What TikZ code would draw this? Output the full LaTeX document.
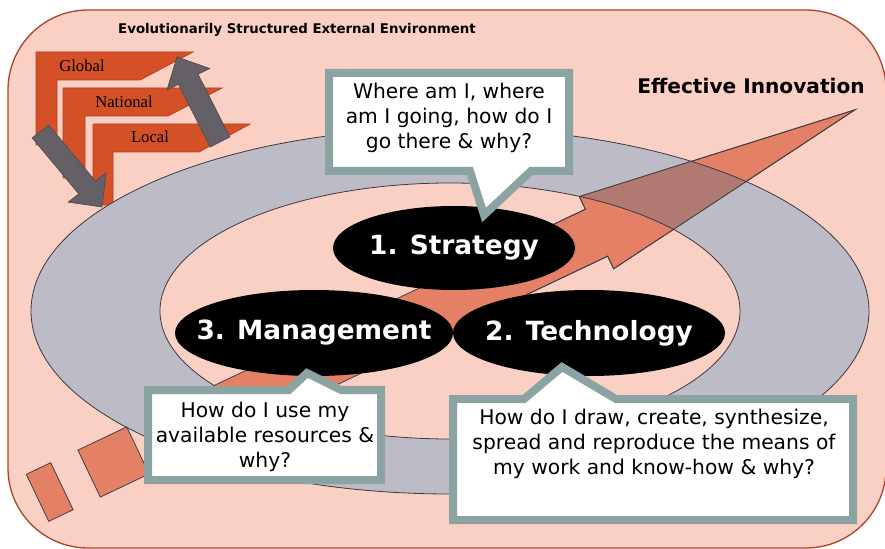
\documentclass[tikz,border=0pt]{standalone}
\usepackage{fontspec}
\setmainfont{DejaVu Sans}
\newfontfamily\lblserif{Liberation Serif}
\usetikzlibrary{shapes.geometric}
\definecolor{bgpink}{HTML}{FBD0C4}
\definecolor{bgline}{HTML}{A9472C}
\definecolor{ringgray}{HTML}{BDBBC6}
\definecolor{ringline}{HTML}{3A3A40}
\definecolor{salmon}{HTML}{E48066}
\definecolor{mauve}{HTML}{B07A72}
\definecolor{levelorange}{HTML}{D45026}
\definecolor{levelline}{HTML}{B5401C}
\definecolor{darkarrow}{HTML}{655F66}
\definecolor{callgray}{HTML}{8CA3A3}
\begin{document}
\begin{tikzpicture}[x=0.75pt,y=-0.75pt,line join=miter,
  blackell/.style={ellipse,fill=black,inner sep=0pt,outer sep=0pt},
  elltext/.style={text=white,inner sep=0pt,font=\fontsize{19.8}{24}\selectfont\bfseries},
  calloutbox/.style={draw=callgray,fill=white,line width=6pt},
  calltext/.style={align=center,inner sep=0pt,font=\fontsize{15.2}{19}\selectfont},
  levelshape/.style={fill=levelorange,draw=levelline,line width=0.6pt},
  levellabel/.style={inner sep=0pt,font=\lblserif\fontsize{12.5}{15}\selectfont},
  grayarrow/.style={fill=darkarrow,draw=black!70,line width=0.5pt},
  ringfill/.style={fill=ringgray},
  ringedge/.style={draw=ringline,line width=0.6pt},
  bigarrow/.style={fill=salmon,draw=black!75,line width=0.6pt},
  tailpiece/.style={fill=salmon,draw=black!75,line width=0.6pt}]
\useasboundingbox (0,0) rectangle (885,549);
\fill[white] (0,0) rectangle (885,549);
% background environment
\draw[fill=bgpink,draw=bgline,line width=1pt,rounded corners=60pt] (8,10) rectangle (886,548);
\node[inner sep=0pt,font=\fontsize{10}{12}\selectfont\bfseries] (title) at (297,30) {Evolutionarily Structured External Environment};
\node[inner sep=0pt,font=\fontsize{15.1}{18}\selectfont\bfseries] (effinn) at (751,86) {Effective Innovation};
% level shapes
\path[levelshape] (36,52) -- (193,52) -- (140,80) -- (57,80) -- (57,145) -- (36,145) -- cycle;
\path[levelshape] (63,88) -- (222,88) -- (168,116) -- (85,116) -- (85,178) -- (63,178) -- cycle;
\path[levelshape] (93,124) -- (250,124) -- (199,152) -- (113,152) -- (113,205) -- (93,205) -- cycle;
\node[levellabel] (global) at (82,66) {Global};
\node[levellabel] (national) at (124,102) {National};
\node[levellabel] (local) at (150,137) {Local};
% gray cycle arrows
\path[grayarrow] (48.8,125.1) -- (95.4,181.1) -- (106.1,172.9) -- (102,207) -- (68.1,202.1) -- (78.8,193.9) -- (32.2,137.9) -- cycle;
\path[grayarrow] (229.8,137) -- (198.1,74.3) -- (209.7,68.5) -- (177,57) -- (166.9,90.1) -- (178.5,84.3) -- (210.2,147) -- cycle;
% ring
\path[ringfill] (450,311) ellipse [x radius=314.25pt, y radius=137.25pt];
\path[fill=bgpink] (450,311) ellipse [x radius=217.5pt, y radius=96pt];
% big arrow
\path[bigarrow] (163.85,409.4) -- (585.35,209.2) -- (579.34,196.6) -- (855,109.8) -- (613.66,268.8) -- (607.65,256.2) -- (186.15,456.4) -- cycle;
\begin{scope}
  \clip (163.85,409.4) -- (585.35,209.2) -- (579.34,196.6) -- (855,109.8) -- (613.66,268.8) -- (607.65,256.2) -- (186.15,456.4) -- cycle;
  \fill[ringgray,even odd rule] (450,311) ellipse [x radius=314.25pt, y radius=137.25pt] (450,311) ellipse [x radius=217.5pt, y radius=96pt];
  \clip (450,0) rectangle (885,549);
  \fill[mauve,even odd rule] (450,311) ellipse [x radius=314.25pt, y radius=137.25pt] (450,311) ellipse [x radius=217.5pt, y radius=96pt];
\end{scope}
\path[ringedge] (450,311) ellipse [x radius=314.25pt, y radius=137.25pt];
\path[ringedge] (450,311) ellipse [x radius=217.5pt, y radius=96pt];
\begin{scope}
  \clip (450,0) rectangle (885,549);
  \draw[black!75,line width=0.6pt] (163.85,409.4) -- (585.35,209.2) -- (579.34,196.6) -- (855,109.8) -- (613.66,268.8) -- (607.65,256.2) -- (186.15,456.4) -- cycle;
\end{scope}
% tail pieces
\path[tailpiece] (77.9,450.1) -- (126.7,426.9) -- (149.1,473.9) -- (100.3,497.1) -- cycle;
\path[tailpiece] (26.3,474.3) -- (50.7,462.7) -- (73.1,509.7) -- (48.7,521.3) -- cycle;
% black ellipses
\node[blackell,minimum width=181.5pt,minimum height=63pt] (strat) at (454,248) {};
\node[elltext] (strattxt) at (strat.center) {1. Strategy};
\node[blackell,minimum width=208.5pt,minimum height=64.5pt] (mgmt) at (314,333) {};
\node[elltext] (mgmttxt) at (mgmt.center) {3. Management};
\node[blackell,minimum width=204pt,minimum height=64.5pt] (tech) at (589,333) {};
\node[elltext] (techtxt) at (tech.center) {2. Technology};
% callouts
\path[calloutbox] (329,73) -- (569,73) -- (569,171) -- (531,171) -- (484,215) -- (470,171) -- (329,171) -- cycle;
\node[calltext] (q1) at (449,118) {Where am I, where\\am I going, how do I\\go there \& why?};
\path[calloutbox] (148,390) -- (289,390) -- (307,373) -- (341,390) -- (381,390) -- (381,480) -- (148,480) -- cycle;
\node[calltext] (q3) at (265,437) {How do I use my\\available resources \&\\why?};
\path[calloutbox] (453,399) -- (524,399) -- (562,367) -- (616,399) -- (853,399) -- (853,520) -- (453,520) -- cycle;
\node[calltext] (q2) at (654,444) {How do I draw, create, synthesize,\\spread and reproduce the means of\\my work and know-how \& why?};
\end{tikzpicture}
\end{document}
